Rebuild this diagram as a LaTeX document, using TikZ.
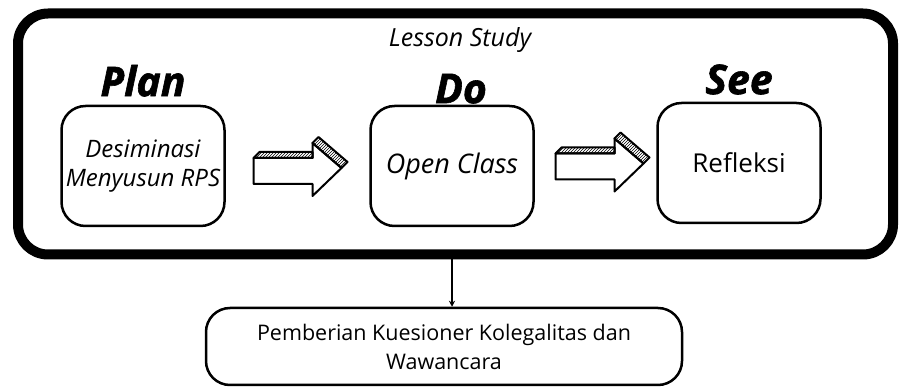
\documentclass[tikz,border=0pt]{standalone}
\usepackage{fontspec}
\setmainfont{Open Sans}
\newfontfamily\phasefont[BoldItalicFeatures={FakeBold=1.5}]{Open Sans}
\usetikzlibrary{positioning,calc,patterns,arrows.meta}

\tikzset{
	stepbox/.style={draw, line width=2.5pt, rounded corners=24pt, minimum width=163pt, minimum height=120pt, align=center, inner sep=2pt, font=\fontsize{26}{30}\selectfont},
	phase/.style={inner sep=0pt, font=\phasefont\fontsize{41}{44}\selectfont\bfseries\itshape},
	fatarrow/.pic={
		\filldraw[fill=white, line width=2pt, line join=round] (-44,-8) -- (15,-8) -- (15,-23) -- (44,2) -- (15,30) -- (15,18) -- (-44,18) -- cycle;
		\filldraw[pattern=north east lines, line width=2pt, line join=round] (-44,-8) -- (-38,-14) -- (15,-14) -- (15,-8) -- cycle;
		\filldraw[pattern=north east lines, line width=2pt, line join=round] (15,-23) -- (21,-29) -- (50,-4) -- (44,2) -- cycle;
	}
}

\begin{document}
\begin{tikzpicture}[x=1pt,y=-1pt]
	\useasboundingbox (0,0) rectangle (900,387);
	\node[draw, line width=10pt, rounded corners=30pt, minimum width=875pt, minimum height=241pt] (lesson) at (455.5,134) {};
	\node[font=\itshape\fontsize{25}{28}\selectfont] (lstitle) at (460,40) {Lesson Study};
	% three phases
	\node[stepbox, font=\itshape\fontsize{24}{29}\selectfont] (plan) at (143,166) {Desiminasi\\Menyusun RPS};
	\node[stepbox, font=\itshape\fontsize{27}{30}\selectfont] (do) at (452,166) {Open Class};
	\node[stepbox] (see) at (739,163) {Refleksi};
	\node[phase, above=8pt of plan] (plantitle) {Plan};
	\node[phase, above=1pt of do, xshift=9pt] (dotitle) {Do};
	\node[phase, above=7pt of see] (seetitle) {See};
	\pic at ($(plan.east)!0.5!(do.west)$) {fatarrow};
	\pic at ($(do.east)!0.5!(see.west)+(4,-3)$) {fatarrow};
	% follow-up
	\node[draw, line width=2.5pt, rounded corners=24pt, minimum width=476pt, minimum height=77pt, align=center, font=\fontsize{21.5}{29}\selectfont] (angket) at (444,346.5) {Pemberian Kuesioner Kolegalitas dan\\Wawancara};
	\draw[-{Stealth[length=6pt,width=6pt]}, line width=1.3pt] (lesson.south -| do.center) -- (angket.north -| do.center);
\end{tikzpicture}
\end{document}
